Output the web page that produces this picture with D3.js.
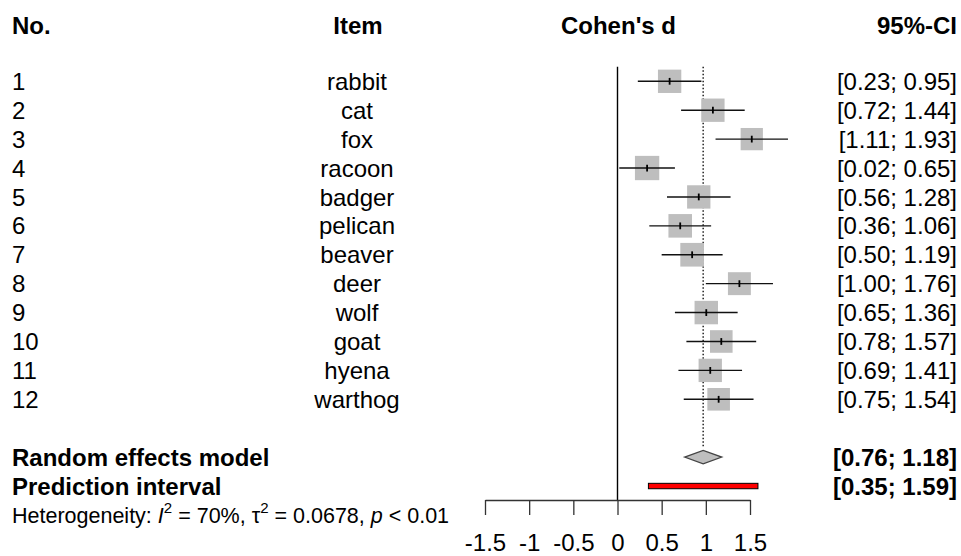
<!DOCTYPE html>
<html>
<head>
<meta charset="utf-8">
<script src="https://cdn.jsdelivr.net/npm/d3@7"></script>
<style>
  html, body { margin: 0; padding: 0; background: #fff; }
  svg { display: block; font-family: "Liberation Sans", Arial, sans-serif; }
</style>
</head>
<body>
<svg id="chart" width="961" height="556"></svg>
<script>
// Study rows
const studyNo  = [1, 2, 3, 4, 5, 6, 7, 8, 9, 10, 11, 12];
const items    = ["rabbit", "cat", "fox", "racoon", "badger", "pelican", "beaver", "deer", "wolf", "goat", "hyena", "warthog"];
const cohenD   = [0.59, 1.08, 1.52, 0.335, 0.92, 0.71, 0.845, 1.38, 1.005, 1.175, 1.05, 1.145];
const ciLower  = [0.23, 0.72, 1.11, 0.02, 0.56, 0.36, 0.50, 1.00, 0.65, 0.78, 0.69, 0.75];
const ciUpper  = [0.95, 1.44, 1.93, 0.65, 1.28, 1.06, 1.19, 1.76, 1.36, 1.57, 1.41, 1.54];
const weightRE = [8.41, 8.41, 7.66, 9.12, 8.41, 8.57, 8.65, 8.11, 8.49, 7.88, 8.41, 7.88];

// Pooled results
const pooledD      = 0.97;
const pooledCI     = [0.76, 1.18];
const predictionCI = [0.35, 1.59];
const hetI2   = "70%";
const hetTau2 = "0.0678";
const hetP    = "< 0.01";

// Axis ticks
const tickValues = [-1.5, -1, -0.5, 0, 0.5, 1, 1.5];

const headers = ["No.", "Item", "Cohen's d", "95%-CI"];

const svg = d3.select("#chart");
const FS = 24;
const fmt2 = d3.format(".2f");
const ciLabel = (lo, hi) => "[" + fmt2(lo) + "; " + fmt2(hi) + "]";

// Scales
const x = d3.scaleLinear().domain([-1.5, 1.5]).range([485, 750]);
const row = d3.scaleLinear().domain([1, 12]).range([81.3, 399.3]);
const side = d3.scaleSqrt().domain([0, d3.max(weightRE)]).range([0, 24.3]);
const base = (y, fs) => y + 0.358 * fs;   // baseline for text centred on y

const colNo = 12, colItem = 357, colCI = 957;

// Header
const head = svg.append("g").attr("font-weight", "bold").attr("font-size", FS).attr("fill", "#000");
head.append("text").attr("x", colNo).attr("y", 34).text(headers[0]);
head.append("text").attr("x", colItem + 1).attr("y", 34).attr("text-anchor", "middle").text(headers[1]);
head.append("text").attr("x", x(0) + 1).attr("y", 34).attr("text-anchor", "middle").text(headers[2]);
head.append("text").attr("x", colCI).attr("y", 34).attr("text-anchor", "end").text(headers[3]);

// Study labels
const rows = studyNo.map((n, i) => ({ n, item: items[i], d: cohenD[i], lo: ciLower[i], hi: ciUpper[i], w: weightRE[i] }));
const lab = svg.append("g").attr("font-size", FS).attr("fill", "#000");
lab.selectAll("text.no").data(rows).join("text").attr("class", "no")
  .attr("x", colNo).attr("y", d => base(row(d.n), FS)).text(d => d.n);
lab.selectAll("text.item").data(rows).join("text").attr("class", "item")
  .attr("x", colItem).attr("y", d => base(row(d.n), FS)).attr("text-anchor", "middle").text(d => d.item);
lab.selectAll("text.ci").data(rows).join("text").attr("class", "ci")
  .attr("x", colCI).attr("y", d => base(row(d.n), FS)).attr("text-anchor", "end").text(d => ciLabel(d.lo, d.hi));

// Summary labels
const yRE = row(14), yPI = row(15), yHet = row(16);
const sum = svg.append("g").attr("font-size", FS).attr("font-weight", "bold").attr("fill", "#000");
sum.append("text").attr("x", colNo).attr("y", base(yRE, FS)).text("Random effects model");
sum.append("text").attr("x", colNo).attr("y", base(yPI, FS)).text("Prediction interval");
sum.append("text").attr("x", colCI).attr("y", base(yRE, FS)).attr("text-anchor", "end").text(ciLabel(pooledCI[0], pooledCI[1]));
sum.append("text").attr("x", colCI).attr("y", base(yPI, FS)).attr("text-anchor", "end").text(ciLabel(predictionCI[0], predictionCI[1]));

// Heterogeneity line
const HFS = 21.5;
const het = svg.append("text").attr("x", colNo).attr("y", base(yHet, HFS)).attr("font-size", HFS).attr("fill", "#000");
het.append("tspan").text("Heterogeneity: ");
het.append("tspan").attr("font-style", "italic").text("I");
het.append("tspan").attr("font-size", HFS * 0.7).attr("dy", -HFS * 0.45).text("2");
het.append("tspan").attr("dy", HFS * 0.45).text(" = " + hetI2 + ", \u03C4");
het.append("tspan").attr("font-size", HFS * 0.7).attr("dy", -HFS * 0.45).text("2");
het.append("tspan").attr("dy", HFS * 0.45).text(" = " + hetTau2 + ", ");
het.append("tspan").attr("font-style", "italic").text("p");
het.append("tspan").text(" " + hetP);

// Reference lines
const yTop = row(1) - 14.5;
const axisY = 500;
svg.append("line")
  .attr("x1", x(0)).attr("x2", x(0)).attr("y1", yTop).attr("y2", axisY)
  .attr("stroke", "#000").attr("stroke-width", 1.4);
svg.append("line")
  .attr("x1", x(pooledD)).attr("x2", x(pooledD)).attr("y1", yTop).attr("y2", yRE - 10)
  .attr("stroke", "#222").attr("stroke-width", 1.5).attr("stroke-dasharray", "1.5 2");

// Study squares and confidence intervals
const marks = svg.append("g");
marks.selectAll("rect").data(rows).join("rect")
  .attr("x", d => x(d.d) - side(d.w) / 2)
  .attr("y", d => row(d.n) - side(d.w) / 2)
  .attr("width", d => side(d.w)).attr("height", d => side(d.w))
  .attr("fill", "#bebebe");
marks.selectAll("line.ciline").data(rows).join("line").attr("class", "ciline")
  .attr("x1", d => x(d.lo)).attr("x2", d => x(d.hi))
  .attr("y1", d => row(d.n)).attr("y2", d => row(d.n))
  .attr("stroke", "#111").attr("stroke-width", 1.4);
marks.selectAll("line.est").data(rows).join("line").attr("class", "est")
  .attr("x1", d => x(d.d)).attr("x2", d => x(d.d))
  .attr("y1", d => row(d.n) - 3.4).attr("y2", d => row(d.n) + 3.4)
  .attr("stroke", "#000").attr("stroke-width", 1.8);

// Pooled diamond
const dh = 6.7;
svg.append("path")
  .attr("d", `M${x(pooledCI[0])},${yRE} L${x(pooledD)},${yRE - dh} L${x(pooledCI[1])},${yRE} L${x(pooledD)},${yRE + dh} Z`)
  .attr("fill", "#bebebe").attr("stroke", "#444").attr("stroke-width", 1.3);

// Prediction interval bar
svg.append("rect")
  .attr("x", x(predictionCI[0])).attr("width", x(predictionCI[1]) - x(predictionCI[0]))
  .attr("y", yPI - 2.7).attr("height", 5.4)
  .attr("fill", "#ff0000").attr("stroke", "#000").attr("stroke-width", 1);

// Axis
const axis = d3.axisBottom(x)
  .tickValues(tickValues)
  .tickFormat(d => String(d))
  .tickSize(15).tickSizeOuter(0).tickPadding(18.5);
const ax = svg.append("g").attr("transform", `translate(0,${axisY})`).call(axis);
ax.select(".domain").attr("stroke", "#333").attr("stroke-width", 1.3);
ax.selectAll(".tick line").attr("stroke", "#333").attr("stroke-width", 1.3);
ax.selectAll(".tick text").attr("font-size", FS).attr("fill", "#000")
  .attr("font-family", "Liberation Sans, Arial, sans-serif");
</script>
</body>
</html>
